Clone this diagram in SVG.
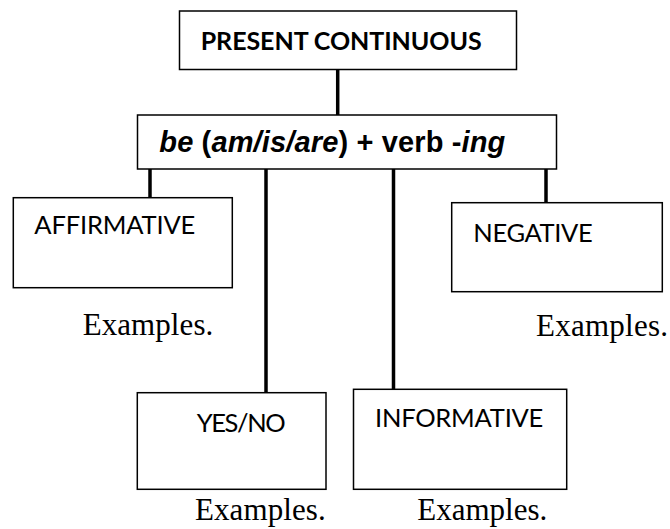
<svg xmlns="http://www.w3.org/2000/svg" width="670" height="529" viewBox="0 0 670 529">
<style>
.box{fill:#fff;stroke:#000;stroke-width:1.5}
.lbl{font-family:Lato,"Open Sans","Liberation Sans",sans-serif;font-size:25.5px;fill:#000}
.ttl{font-family:Lato,"Open Sans","Liberation Sans",sans-serif;font-size:25px;font-weight:bold;fill:#000}
.frm{font-family:"Liberation Sans",Arial,sans-serif;font-size:29px;font-weight:bold;fill:#000}
.ex{font-family:"Liberation Serif","Times New Roman",serif;font-size:31px;fill:#000}
.con{stroke:#000;stroke-width:3.5;fill:none}
</style>
<rect width="670" height="529" fill="#fff"/>
<g id="connectors">
<line class="con" x1="337.7" y1="69.5" x2="337.7" y2="115"/>
<line class="con" x1="150" y1="169" x2="150" y2="197.7"/>
<line class="con" x1="266" y1="169" x2="266" y2="392.7"/>
<line class="con" x1="393.5" y1="169" x2="393.5" y2="389.3"/>
<line class="con" x1="546" y1="169" x2="546" y2="202.7"/>
</g>
<g id="title">
<rect class="box" x="179.5" y="11" width="337" height="58.5"/>
<text class="ttl" x="200.7" y="50" textLength="281">PRESENT CONTINUOUS</text>
</g>
<g id="formula">
<rect class="box" x="137.5" y="115" width="419" height="54"/>
<text class="frm" x="159.3" y="152.3" textLength="346"><tspan font-style="italic">be</tspan> (<tspan font-style="italic">am/is/are</tspan>) + verb -<tspan font-style="italic">ing</tspan></text>
</g>
<g id="affirmative">
<rect class="box" x="13.3" y="197.7" width="219" height="90"/>
<text class="lbl" x="34.3" y="234" textLength="161">AFFIRMATIVE</text>
<text class="ex" x="82.7" y="335" textLength="130.6">Examples.</text>
</g>
<g id="yesno">
<rect class="box" x="137.3" y="392.7" width="188.7" height="96.6"/>
<text class="lbl" x="196.7" y="431.7" textLength="89">YES/NO</text>
<text class="ex" x="195" y="520" textLength="130.7">Examples.</text>
</g>
<g id="informative">
<rect class="box" x="353.5" y="389.3" width="213.2" height="100"/>
<text class="lbl" x="375" y="426.7" textLength="168.3">INFORMATIVE</text>
<text class="ex" x="417.3" y="520" textLength="130">Examples.</text>
</g>
<g id="negative">
<rect class="box" x="451.7" y="202.7" width="210.6" height="89"/>
<text class="lbl" x="473.3" y="241.7" textLength="119.4">NEGATIVE</text>
<text class="ex" x="536" y="335.7" textLength="132">Examples.</text>
</g>
</svg>
